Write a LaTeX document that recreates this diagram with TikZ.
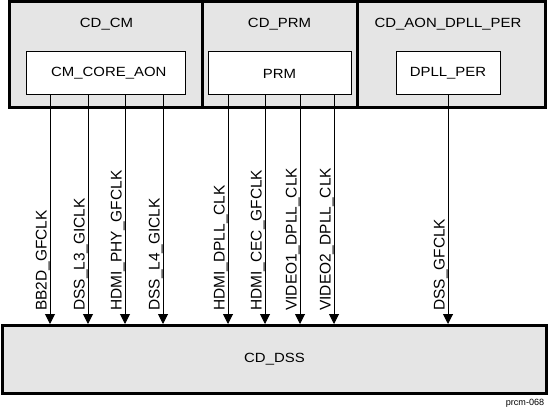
\documentclass[tikz,border=0pt]{standalone}
\usepackage{fontspec}
\setmainfont{Liberation Sans}[FakeStretch=1.12]
\newfontfamily\clkfont{Liberation Sans}
\usetikzlibrary{arrows.meta}

\definecolor{cdgray}{RGB}{229,229,229}

\tikzset{
  cdbox/.style={draw, line width=2.25pt, fill=cdgray},
  cmbox/.style={draw, line width=0.75pt, fill=white, minimum height=32.25pt, inner sep=0pt},
  clk/.style={line width=0.75pt, -{Triangle[length=7.5pt,width=7.5pt]}},
  clklabel/.style={rotate=90, anchor=base west, inner sep=0pt, font=\clkfont\fontsize{11.6}{13}\selectfont},
}

\begin{document}
\begin{tikzpicture}[x=0.75pt,y=0.75pt,yscale=-1,xscale=1]
\useasboundingbox (0,0) rectangle (548,409);

%Shape: Rectangle [CD_CM]
\draw [cdbox] (9.5,1.5) rectangle (202.5,107.5) ;
%Shape: Rectangle [CD_PRM]
\draw [cdbox] (202.5,1.5) rectangle (357.5,107.5) ;
%Shape: Rectangle [CD_AON_DPLL_PER]
\draw [cdbox] (357.5,1.5) rectangle (545.5,107.5) ;

% Text Node
\node [anchor=base] (tcm) at (106.5,28) {CD\_CM};
% Text Node
\node [anchor=base] (tprm) at (279.5,28) {CD\_PRM};
% Text Node
\node [anchor=base] (taon) at (448,28) {CD\_AON\_DPLL\_PER};

%Shape: Rectangle [clock managers]
\node [cmbox, minimum width=119.25pt] (cmcore) at (105.5,73.5) {\hspace{5pt}CM\_CORE\_AON};
\node [cmbox, minimum width=107.25pt] (prm) at (279.5,73.5) {PRM};
\node [cmbox, minimum width=78pt] (dpllper) at (448,73.5) {DPLL\_PER};

%Shape: Rectangle [CD_DSS]
\node [cdbox, minimum width=408pt, minimum height=51pt, inner sep=0pt] (dss) at (274.5,359.5) {CD\_DSS};

%Straight Lines [clocks]
\draw [clk] (cmcore.south -| 50,0) -- (dss.north -| 50,0) ;
\draw [clk] (cmcore.south -| 88,0) -- (dss.north -| 88,0) ;
\draw [clk] (cmcore.south -| 125,0) -- (dss.north -| 125,0) ;
\draw [clk] (cmcore.south -| 163,0) -- (dss.north -| 163,0) ;
\draw [clk] (prm.south -| 228,0) -- (dss.north -| 228,0) ;
\draw [clk] (prm.south -| 265,0) -- (dss.north -| 265,0) ;
\draw [clk] (prm.south -| 300,0) -- (dss.north -| 300,0) ;
\draw [clk] (prm.south -| 334,0) -- (dss.north -| 334,0) ;
\draw [clk] (dpllper.south -| 448,0) -- (dss.north -| 448,0) ;

% Text Node [clock names]
\node [clklabel] (bb2d) at (46.5,311) {BB2D\_GFCLK};
\node [clklabel] (dssl3) at (84.5,311) {DSS\_L3\_GICLK};
\node [clklabel] (hdmiphy) at (121.5,311) {HDMI\_PHY\_GFCLK};
\node [clklabel] (dssl4) at (159.5,311) {DSS\_L4\_GICLK};
\node [clklabel] (hdmidpll) at (224.5,311) {HDMI\_DPLL\_CLK};
\node [clklabel] (hdmicec) at (261.5,311) {HDMI\_CEC\_GFCLK};
\node [clklabel] (video1) at (296.5,311) {VIDEO1\_DPLL\_CLK};
\node [clklabel] (video2) at (330.5,311) {VIDEO2\_DPLL\_CLK};
\node [clklabel] (dssgf) at (444.5,311) {DSS\_GFCLK};

% Text Node
\node [font=\clkfont\fontsize{6.8}{8}\selectfont] (fig) at (525,403.5) {prcm-068};

\end{tikzpicture}
\end{document}
